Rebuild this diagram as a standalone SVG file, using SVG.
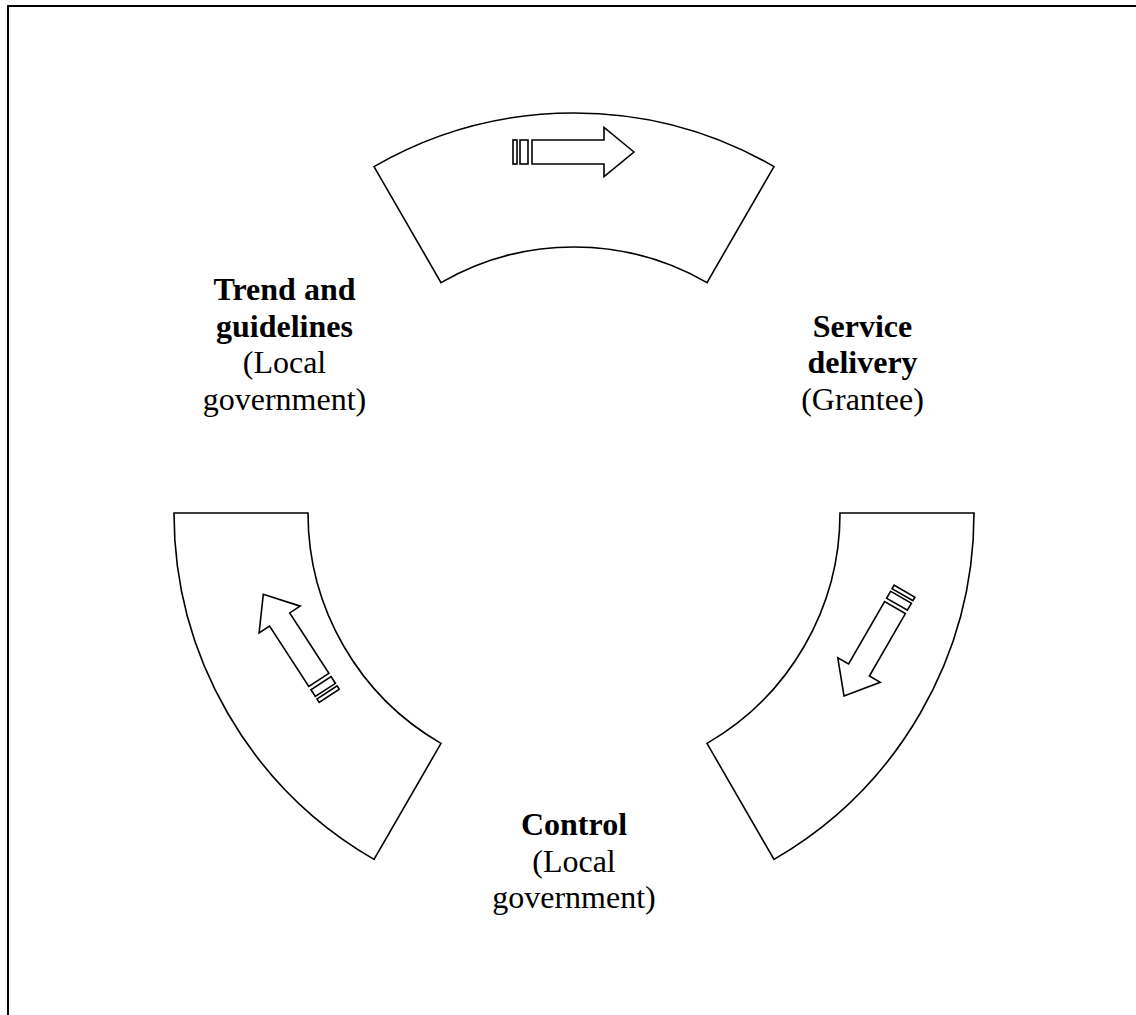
<svg xmlns="http://www.w3.org/2000/svg" xmlns:xlink="http://www.w3.org/1999/xlink" width="1136" height="1015" viewBox="0 0 1136 1015">
<style>
.seg{fill:#fff;stroke:#000;stroke-width:1.6}
.arr{fill:#fff;stroke:#000;stroke-width:1.6;stroke-linejoin:miter}
.t{font-family:"Liberation Serif","Times New Roman",serif;font-size:32px;fill:#000;text-anchor:middle}
.b{font-weight:bold}
</style>
<defs>
<g id="arrow">
<polygon class="arr" points="0,0 -30,-24.5 -30,-12 -102,-12 -102,12 -30,12 -30,24.5"/>
<rect class="arr" x="-114" y="-12" width="8" height="24"/>
<rect class="arr" x="-121" y="-12" width="4" height="24"/>
</g>
</defs>
<rect x="8" y="6" width="1140" height="1030" fill="#fff" stroke="#000" stroke-width="2"/>
<g id="segment-top">
<path class="seg" d="M374,166.6 A400,400 0 0 1 774,166.6 L707,282.6 A266,266 0 0 0 441,282.6 Z"/>
</g>
<g id="segment-right">
<path class="seg" d="M840,513 L974,513 A400,400 0 0 1 774,859.4 L707,743.4 A266,266 0 0 0 840,513 Z"/>
</g>
<g id="segment-left">
<path class="seg" d="M174,513 L308,513 A266,266 0 0 0 441,743.4 L374,859.4 A400,400 0 0 1 174,513 Z"/>
</g>
<g id="connectors">
<use xlink:href="#arrow" transform="translate(634,152)"/>
<use xlink:href="#arrow" transform="translate(844,696) rotate(120)"/>
<use xlink:href="#arrow" transform="translate(263.3,594.3) rotate(-123)"/>
</g>
<g id="node-trend">
<text class="t" x="284.5" y="300"><tspan class="b">Trend and</tspan><tspan class="b" x="284.5" y="336.5">guidelines</tspan><tspan x="284.5" y="373">(Local</tspan><tspan x="284.5" y="409.5">government)</tspan></text>
</g>
<g id="node-service">
<text class="t" x="862.5" y="336.5"><tspan class="b">Service</tspan><tspan class="b" x="862.5" y="373">delivery</tspan><tspan x="862.5" y="409.5">(Grantee)</tspan></text>
</g>
<g id="node-control">
<text class="t" x="574" y="835"><tspan class="b">Control</tspan><tspan x="574" y="871.5">(Local</tspan><tspan x="574" y="908">government)</tspan></text>
</g>
</svg>
